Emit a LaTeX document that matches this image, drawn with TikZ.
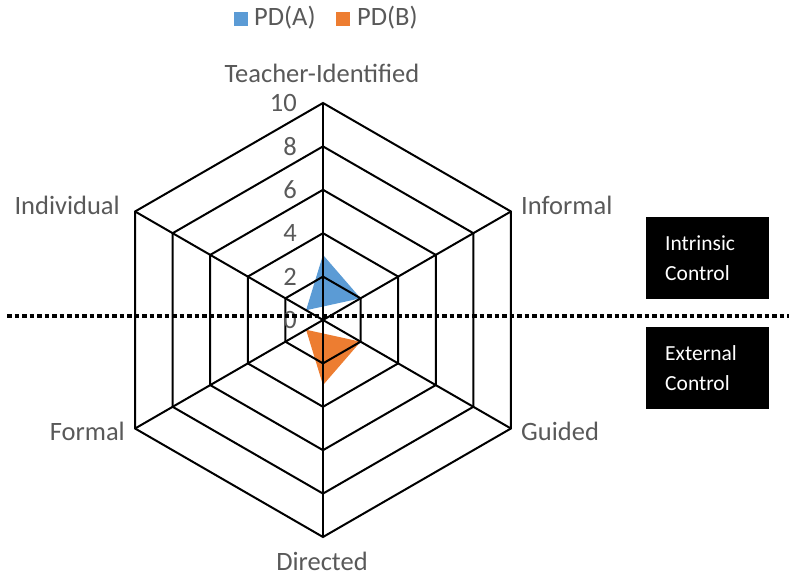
\documentclass[tikz,border=0pt]{standalone}
\usepackage{fontspec}
\setmainfont{Carlito}
\usetikzlibrary{calc}
\definecolor{seriesA}{HTML}{5B9BD5}
\definecolor{seriesB}{HTML}{ED7D31}
\definecolor{labelgray}{HTML}{595959}
\begin{document}
\begin{tikzpicture}[x=1pt,y=1pt,
  grid/.style={line width=2pt, black, line join=miter},
  axislabel/.style={font=\fontsize{26.5}{30}\selectfont, text=labelgray, inner sep=0pt},
  ticklabel/.style={font=\fontsize{26.5}{30}\selectfont, text=labelgray, inner sep=0pt, anchor=east},
  legendbox/.style={minimum size=14pt, inner sep=0pt, anchor=south west},
  legendtext/.style={font=\fontsize{26.5}{30}\selectfont, text=labelgray, inner sep=0pt, anchor=base west},
  controlbox/.style={fill=black, text=white, font=\fontsize{21.5}{30}\selectfont,
    minimum width=123pt, minimum height=82pt, text width=85pt, inner xsep=19pt,
    align=left, anchor=south west},
  divider/.style={line width=4pt, dash pattern=on 4.5pt off 3pt}
]
\useasboundingbox (0,0) rectangle (789,577);
\def\u{21.7}
\coordinate (O) at (323,257);

% data series (filled radar areas)
\fill[seriesA, shift={(O)}] (90:3*\u) -- (30:2*\u) -- (150:0.9*\u) -- cycle;
\fill[seriesB, shift={(O)}] (210:0.9*\u) -- (-30:2*\u) -- (-90:3*\u) -- cycle;

% concentric hexagonal grid
\foreach \k in {2,4,6,8,10} {
  \draw[grid, shift={(O)}] (90:\k*\u) -- (30:\k*\u) -- (-30:\k*\u) -- (-90:\k*\u)
    -- (-150:\k*\u) -- (150:\k*\u) -- cycle;
}

% spokes
\foreach \a [count=\i] in {90,30,-30,-90,-150,150} {
  \coordinate (V\i) at ($(O)+(\a:10*\u)$);
  \draw[grid] (O) -- (V\i);
}

% value scale
\foreach \k in {0,2,4,6,8,10} {
  \node[ticklabel] (t\k) at (297,257+\k*\u) {\k};
}

% axis names
\node[axislabel, anchor=base] (ax1) at (322,494) {Teacher-Identified};
\node[axislabel, anchor=base west] (ax2) at (521,362) {Informal};
\node[axislabel, anchor=base west] (ax3) at (521,136) {Guided};
\node[axislabel, anchor=base] (ax4) at (322,6) {Directed};
\node[axislabel, anchor=base east] (ax5) at (125,136) {Formal};
\node[axislabel, anchor=base east] (ax6) at (120,362) {Individual};

% legend
\node[legendbox, fill=seriesA] (keyA) at (234,551) {};
\node[legendtext] (lblA) at (254,551) {PD(A)};
\node[legendbox, fill=seriesB] (keyB) at (336,551) {};
\node[legendtext] (lblB) at (357,551) {PD(B)};

% control boundary
\coordinate (divL) at (7,261);
\coordinate (divR) at (789,261);
\draw[divider] (divL) -- (divR);

\node[controlbox] (intrinsic) at (646,278) {Intrinsic\\Control};
\node[controlbox] (external) at (646,168) {External\\Control};
\end{tikzpicture}
\end{document}
